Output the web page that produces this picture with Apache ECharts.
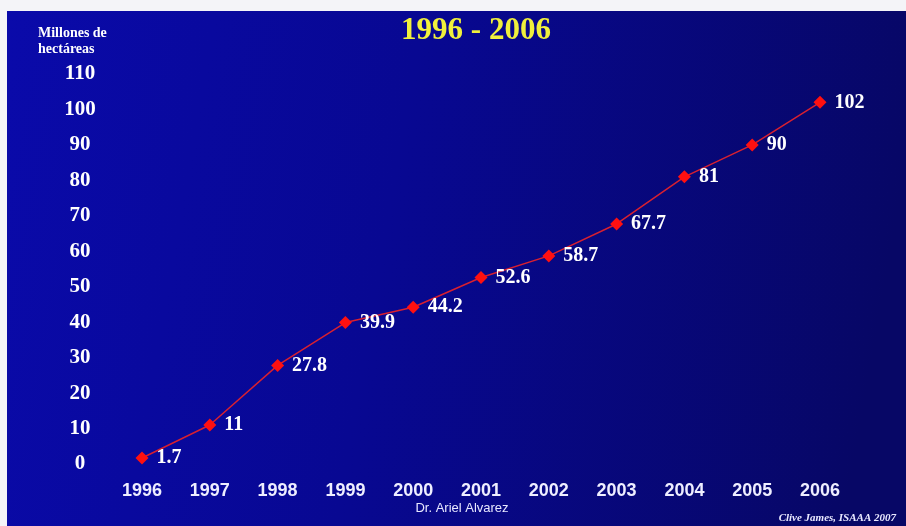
<!DOCTYPE html>
<html>
<head>
<meta charset="utf-8">
<script src="https://cdn.jsdelivr.net/npm/echarts@6/dist/echarts.min.js"></script>
<style>
  html, body { margin: 0; padding: 0; background: #ffffff; }
  #chart { width: 906px; height: 526px; }
</style>
</head>
<body>
<div id="chart"></div>
<script>
// Global area of biotech crops, 1996-2006 (millions of hectares)
const years = ['1996', '1997', '1998', '1999', '2000', '2001', '2002', '2003', '2004', '2005', '2006'];
const hectares = [1.7, 11, 27.8, 39.9, 44.2, 52.6, 58.7, 67.7, 81, 90, 102];
const yTicks = { min: 0, max: 110, interval: 10 };

const serif = '"Liberation Serif", "Times New Roman", serif';
const sans = '"Liberation Sans", Arial, sans-serif';

const chart = echarts.init(document.getElementById('chart'), null, { renderer: 'canvas' });

chart.setOption({
  backgroundColor: '#f4f4f8',
  animation: false,
  graphic: [
    {
      type: 'rect',
      z: -10,
      shape: { x: 7, y: 11, width: 899, height: 515 },
      style: {
        fill: new echarts.graphic.LinearGradient(0, 0, 1, 0.3, [
          { offset: 0, color: '#0a0aaa' },
          { offset: 0.45, color: '#080892' },
          { offset: 1, color: '#070766' }
        ])
      },
      silent: true
    },
    {
      type: 'text',
      x: 38, y: 25,
      style: {
        text: 'Millones de\nhectáreas',
        fill: '#ffffff',
        font: 'bold 14px ' + serif,
        lineHeight: 16
      }
    },
    {
      type: 'text',
      x: 476, y: 15,
      style: {
        text: '1996 - 2006',
        fill: '#f0f03c',
        font: 'bold 31px ' + serif,
        textAlign: 'center'
      }
    },
    {
      type: 'text',
      x: 462, y: 502,
      style: {
        text: 'Dr. Ariel Alvarez',
        fill: '#e8e8ff',
        font: '13px ' + sans,
        textAlign: 'center'
      }
    },
    {
      type: 'text',
      x: 896, y: 513,
      style: {
        text: 'Clive James, ISAAA 2007',
        fill: '#e8e8ff',
        font: 'italic bold 11px ' + serif,
        textAlign: 'right'
      }
    }
  ],
  grid: { left: 142, right: 86, top: 74, bottom: 62, containLabel: false },
  xAxis: {
    type: 'category',
    data: years,
    boundaryGap: false,
    axisLine: { show: false },
    axisTick: { show: false },
    splitLine: { show: false },
    axisLabel: {
      color: '#eeeeff',
      fontFamily: sans,
      fontWeight: 'bold',
      fontSize: 18,
      margin: 18
    }
  },
  yAxis: {
    type: 'value',
    min: yTicks.min,
    max: yTicks.max,
    interval: yTicks.interval,
    axisLine: { show: false },
    axisTick: { show: false },
    splitLine: { show: false },
    axisLabel: {
      color: '#ffffff',
      fontFamily: serif,
      fontWeight: 'bold',
      fontSize: 21,
      align: 'center',
      margin: 62
    }
  },
  series: [
    {
      type: 'line',
      data: hectares,
      symbol: 'diamond',
      symbolSize: 13,
      itemStyle: { color: '#ff1010' },
      lineStyle: { color: '#d82030', width: 1.5 },
      label: {
        show: true,
        position: 'right',
        distance: 8,
        color: '#ffffff',
        fontFamily: serif,
        fontWeight: 'bold',
        fontSize: 20
      }
    }
  ]
});
</script>
</body>
</html>
